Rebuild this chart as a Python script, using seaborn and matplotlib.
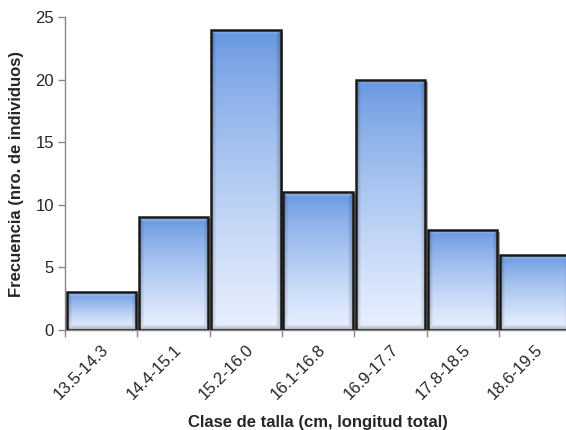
import numpy as np
import pandas as pd
import matplotlib
matplotlib.use("Agg")
import matplotlib.pyplot as plt
import matplotlib.patheffects as pe
import matplotlib.transforms as mtransforms
from matplotlib.patches import Rectangle
import seaborn as sns

# datos del histograma
clases = ["13.5-14.3", "14.4-15.1", "15.2-16.0", "16.1-16.8",
          "16.9-17.7", "17.8-18.5", "18.6-19.5"]
frecuencia = [3, 9, 24, 11, 20, 8, 6]
y_ticks = [0, 5, 10, 15, 20, 25]

df = pd.DataFrame({"clase": clases, "frecuencia": frecuencia})

sns.set_theme(style="white")
plt.rcParams['font.family'] = ['Liberation Sans', 'DejaVu Sans']

fig = plt.figure(figsize=(5.66, 4.30), dpi=100)
ax = fig.add_axes([0.115, 0.233, 0.894, 0.727])

sns.barplot(data=df, x="clase", y="frecuencia", ax=ax, width=0.96,
            color="#6a9be0", linewidth=0, zorder=1)

ax.set_xlim(-0.5, len(clases) - 0.5)
ax.set_ylim(0, 25)
fig.canvas.draw()

top = np.array([98, 148, 224]) / 255
bot = np.array([234, 241, 255]) / 255


def bevel_image(w_px, h_px):
    # gradiente vertical con un biselado sencillo en los bordes
    t = np.linspace(0, 1, h_px) ** 0.75
    col = top[None, :] * (1 - t[:, None]) + bot[None, :] * t[:, None]
    img = np.repeat(col[:, None, :], w_px, axis=1)
    b = 5
    yy, xx = np.mgrid[0:h_px, 0:w_px]
    d_top = yy
    d_bot = h_px - 1 - yy
    d_left = xx
    d_right = w_px - 1 - xx
    dmin = np.minimum.reduce([d_top, d_bot, d_left, d_right])
    band = dmin < b
    f = (b - dmin) / b
    is_top = band & (d_top == dmin)
    is_bot = band & (d_bot == dmin) & ~is_top
    is_side = band & ~is_top & ~is_bot
    img[is_top] = img[is_top] + (1 - img[is_top]) * (0.35 * f[is_top])[:, None]
    img[is_bot] = img[is_bot] * (1 - 0.28 * f[is_bot])[:, None]
    img[is_side] = img[is_side] * (1 - 0.22 * f[is_side])[:, None]
    return np.clip(img, 0, 1)


px_per_x = ax.transData.transform((1, 0))[0] - ax.transData.transform((0, 0))[0]
px_per_y = ax.transData.transform((0, 1))[1] - ax.transData.transform((0, 0))[1]

for p in list(ax.patches):
    x, w, h = p.get_x(), p.get_width(), p.get_height()
    p.set_path_effects([pe.SimplePatchShadow(offset=(2, -1.5), shadow_rgbFace="#333333", alpha=0.45),
                        pe.Normal()])
    img = bevel_image(max(int(w * px_per_x), 2), max(int(h * px_per_y), 2))
    im = ax.imshow(img, extent=[x, x + w, 0, h], aspect="auto", zorder=2,
                   interpolation="bilinear")
    im.set_clip_path(p)
    ax.add_patch(Rectangle((x, 0), w, h, fill=False, edgecolor="#1a1a1a",
                           linewidth=1.8, zorder=3))

ax.set_xlim(-0.5, len(clases) - 0.5)
ax.set_ylim(0, 25)
ax.set_yticks(y_ticks)

# etiquetas en el centro, marcas en los limites de clase
ax.set_xticks(range(len(clases)))
ax.set_xticklabels(clases, rotation=45, ha="right", rotation_mode="anchor", fontsize=12)
shift = mtransforms.ScaledTranslation(-5 / 72, 0, fig.dpi_scale_trans)
for lbl in ax.get_xticklabels():
    lbl.set_transform(lbl.get_transform() + shift)
ax.set_xticks(np.arange(-0.5, len(clases), 1.0), minor=True)
ax.tick_params(axis="x", which="major", length=0, pad=9)
ax.tick_params(axis="x", which="minor", length=5, width=1, color="#888888", direction="out", bottom=True)
ax.tick_params(axis="y", length=5, width=1, color="#888888", direction="out", left=True, labelsize=12, pad=3)

for s in ["top", "right"]:
    ax.spines[s].set_visible(False)
for s in ["left", "bottom"]:
    ax.spines[s].set_color("#888888")
    ax.spines[s].set_linewidth(1)
    ax.spines[s].set_zorder(0.5)

ax.set_xlabel("Clase de talla (cm, longitud total)", fontsize=12, fontweight="bold", labelpad=9)
ax.set_ylabel("Frecuencia (nro. de individuos)", fontsize=12, fontweight="bold", labelpad=8)

fig.savefig("out.png", dpi=100)
